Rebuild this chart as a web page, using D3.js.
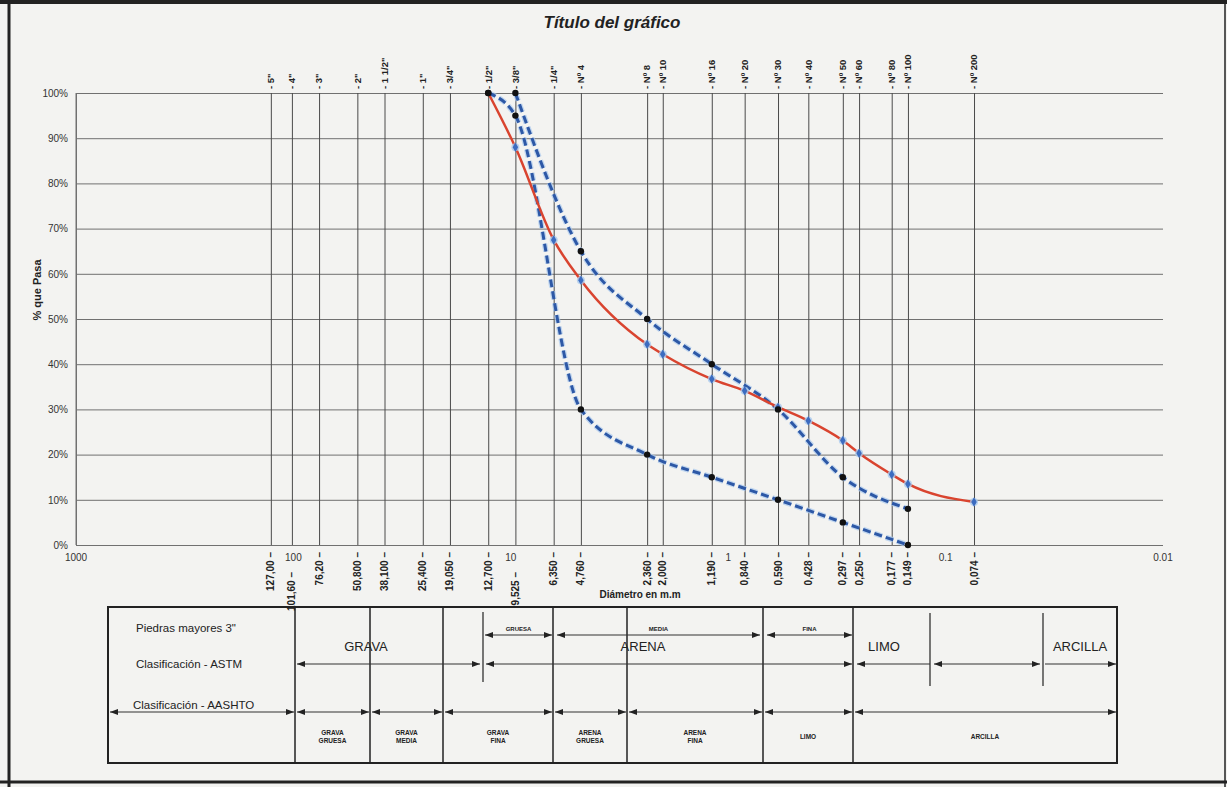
<!DOCTYPE html>
<html>
<head>
<meta charset="utf-8">
<script src="https://cdn.jsdelivr.net/npm/d3@7"></script>
<style>
  body { margin: 0; background: #f3f3f1; }
  svg { display: block; font-family: "Liberation Sans", Arial, sans-serif; }
</style>
</head>
<body>
<svg id="chart" width="1227" height="787"></svg>
<script>
// Tamices (ASTM)
var sieveNames = ['5"', '4"', '3"', '2"', '1 1/2"', '1"', '3/4"', '1/2"', '3/8"', '1/4"', 'Nº 4', 'Nº 8', 'Nº 10', 'Nº 16', 'Nº 20', 'Nº 30', 'Nº 40', 'Nº 50', 'Nº 60', 'Nº 80', 'Nº 100', 'Nº 200'];
var sieveSizes = [127, 101.6, 76.2, 50.8, 38.1, 25.4, 19.05, 12.7, 9.525, 6.35, 4.76, 2.36, 2.0, 1.19, 0.84, 0.59, 0.428, 0.297, 0.25, 0.177, 0.149, 0.074];
var sieveSizeLabels = ['127,00', '101,60', '76,20', '50,800', '38,100', '25,400', '19,050', '12,700', '9,525', '6,350', '4,760', '2,360', '2,000', '1,190', '0,840', '0,590', '0,428', '0,297', '0,250', '0,177', '0,149', '0,074'];

// Eje log (décadas) y eje %
var decadeValues = [1000, 100, 10, 1, 0.1, 0.01];
var decadeLabels = ['1000', '100', '10', '1', '0.1', '0.01'];
var percentTicks = [0, 10, 20, 30, 40, 50, 60, 70, 80, 90, 100];

// % que pasa (null = sin dato en ese tamiz)
var muestra = [null, null, null, null, null, null, null, 100, 88, 67.5, 58.6, 44.4, 42.2, 36.7, 34.1, 30.5, 27.5, 23.1, 20.3, 15.6, 13.5, 9.5];
var limiteSuperior = [null, null, null, null, null, null, null, null, 100, null, 65, 50, null, 40, null, 30, null, 15, null, null, 8, null];
var limiteInferior = [null, null, null, null, null, null, null, 100, 95, null, 30, 20, null, 15, null, 10, null, 5, null, null, 0, null];

// Tabla de clasificación
var rowTitles = ['Piedras mayores 3"', 'Clasificación - ASTM', 'Clasificación - AASHTO'];
var astmLabels = ['GRAVA', 'ARENA', 'LIMO', 'ARCILLA'];
var arenaSubLabels = ['GRUESA', 'MEDIA', 'FINA'];
var aashtoLabels = [['GRAVA', 'GRUESA'], ['GRAVA', 'MEDIA'], ['GRAVA', 'FINA'], ['ARENA', 'GRUESA'], ['ARENA', 'FINA'], ['LIMO'], ['ARCILLA']];

var svg = d3.select('#chart');

// Plot area
var plot = { left: 76, right: 1163, top: 93, bottom: 545 };
var plotW = plot.right - plot.left;
var plotH = plot.bottom - plot.top;

var xScale = d3.scaleLog().domain([1000, 0.01]).range([plot.left, plot.right]);
var yScale = d3.scaleLinear().domain([0, 100]).range([plot.bottom, plot.top]);

var ink = '#222';
var gridColor = '#707070';

// Title
svg.append('text')
  .attr('x', 612).attr('y', 28)
  .attr('text-anchor', 'middle')
  .style('font-size', '17px').style('font-weight', 'bold').style('font-style', 'italic')
  .attr('fill', ink)
  .text('Título del gráfico');

// Horizontal grid + % labels
var yAxis = d3.axisLeft(yScale)
  .tickValues(percentTicks)
  .tickSize(-plotW)
  .tickPadding(8)
  .tickFormat(function(d) { return d + '%'; });

var yG = svg.append('g')
  .attr('transform', 'translate(' + plot.left + ',0)')
  .call(yAxis);
yG.select('.domain').attr('stroke', gridColor);
yG.selectAll('.tick line').attr('stroke', gridColor).attr('stroke-width', 1);
yG.selectAll('.tick text')
  .attr('fill', '#333')
  .style('font-size', '10px')
  .style('font-family', '"Liberation Sans", Arial, sans-serif');

// Vertical grid at sieves
var xGrid = d3.axisBottom(xScale)
  .tickValues(sieveSizes)
  .tickSize(-plotH)
  .tickFormat('');
var xG = svg.append('g')
  .attr('transform', 'translate(0,' + plot.bottom + ')')
  .call(xGrid);
xG.select('.domain').remove();
xG.selectAll('.tick line').attr('stroke', '#4a4a4a').attr('stroke-width', 1);

// Left edge of plot
svg.append('line')
  .attr('x1', xScale(1000)).attr('x2', xScale(1000))
  .attr('y1', plot.top).attr('y2', plot.bottom)
  .attr('stroke', gridColor);

// Top labels (sieve names)
svg.append('g').selectAll('text')
  .data(sieveNames)
  .enter().append('text')
  .attr('transform', function(d, i) { return 'translate(' + xScale(sieveSizes[i]) + ',89) rotate(-90)'; })
  .attr('dy', '0.35em')
  .attr('text-anchor', 'start')
  .style('font-size', '9.5px').style('font-weight', 'bold')
  .attr('fill', ink)
  .text(function(d) { return '- ' + d; });

// Decade labels
svg.append('g').selectAll('text')
  .data(decadeValues)
  .enter().append('text')
  .attr('x', function(d) { return xScale(d); })
  .attr('y', 561)
  .attr('text-anchor', 'middle')
  .style('font-size', '10px')
  .attr('fill', '#333')
  .text(function(d, i) { return decadeLabels[i]; });

// Bottom labels (sieve size in mm), pushed down when they collide with a decade label
svg.append('g').selectAll('text')
  .data(sieveSizeLabels)
  .enter().append('text')
  .attr('transform', function(d, i) {
    var px = xScale(sieveSizes[i]);
    var clash = decadeValues.some(function(v) { return Math.abs(xScale(v) - px) < 10; });
    return 'translate(' + px + ',' + (clash ? 572 : 552) + ') rotate(-90)';
  })
  .attr('dy', '0.35em')
  .attr('text-anchor', 'end')
  .style('font-size', '10px').style('font-weight', 'bold')
  .attr('fill', ink)
  .text(function(d) { return d + ' –'; });

// Axis titles
svg.append('text')
  .attr('transform', 'translate(41,290) rotate(-90)')
  .attr('text-anchor', 'middle')
  .style('font-size', '11px').style('font-weight', 'bold')
  .attr('fill', ink)
  .text('% que Pasa');

svg.append('text')
  .attr('x', 640).attr('y', 598)
  .attr('text-anchor', 'middle')
  .style('font-size', '10px').style('font-weight', 'bold')
  .attr('fill', ink)
  .text('Diámetro en m.m');

// Curves
function toPoints(values) {
  return sieveSizes.map(function(s, i) { return { size: s, value: values[i] }; })
    .filter(function(d) { return d.value != null; });
}

var line = d3.line()
  .x(function(d) { return xScale(d.size); })
  .y(function(d) { return yScale(d.value); })
  .curve(d3.curveMonotoneX);

var curves = svg.append('g');

[limiteSuperior, limiteInferior].forEach(function(values) {
  var pts = toPoints(values);
  curves.append('path')
    .attr('d', line(pts))
    .attr('fill', 'none')
    .attr('stroke', '#a9c9ee')
    .attr('stroke-width', 5.5)
    .attr('stroke-dasharray', '8,4')
    .attr('opacity', 0.7);
  curves.append('path')
    .attr('d', line(pts))
    .attr('fill', 'none')
    .attr('stroke', '#2d58a6')
    .attr('stroke-width', 3)
    .attr('stroke-dasharray', '8,4');
});

var muestraPts = toPoints(muestra);
curves.append('path')
  .attr('d', line(muestraPts))
  .attr('fill', 'none')
  .attr('stroke', '#d9442f')
  .attr('stroke-width', 2.5);

// Markers: sample
curves.selectAll('.halo')
  .data(muestraPts.slice(1))
  .enter().append('circle')
  .attr('class', 'halo')
  .attr('cx', function(d) { return xScale(d.size); })
  .attr('cy', function(d) { return yScale(d.value); })
  .attr('r', 4)
  .attr('fill', '#a9c9ee')
  .attr('opacity', 0.8);

curves.selectAll('.mk')
  .data(muestraPts.slice(1))
  .enter().append('path')
  .attr('class', 'mk')
  .attr('transform', function(d) { return 'translate(' + xScale(d.size) + ',' + yScale(d.value) + ')'; })
  .attr('d', d3.symbol().type(d3.symbolDiamond).size(26))
  .attr('fill', '#3c6cc0');

// Markers: limits (black dots)
var limitPts = toPoints(limiteSuperior).concat(toPoints(limiteInferior)).concat([muestraPts[0]]);
curves.selectAll('.dot')
  .data(limitPts)
  .enter().append('circle')
  .attr('class', 'dot')
  .attr('cx', function(d) { return xScale(d.size); })
  .attr('cy', function(d) { return yScale(d.value); })
  .attr('r', 3.2)
  .attr('fill', '#111');

// ---------- Classification table ----------
var defs = svg.append('defs');
defs.append('marker')
  .attr('id', 'ah')
  .attr('viewBox', '0 0 8 6')
  .attr('refX', 8).attr('refY', 3)
  .attr('markerWidth', 8).attr('markerHeight', 6)
  .attr('markerUnits', 'userSpaceOnUse')
  .attr('orient', 'auto-start-reverse')
  .append('path').attr('d', 'M0,0L8,3L0,6Z').attr('fill', ink);

var table = { left: 108, right: 1117, top: 607, bottom: 763 };
var tableCols = [295, 370, 443, 553, 627, 763, 853];
var tg = svg.append('g');

tg.append('rect')
  .attr('x', table.left).attr('y', table.top)
  .attr('width', table.right - table.left).attr('height', table.bottom - table.top)
  .attr('fill', 'none').attr('stroke', ink).attr('stroke-width', 2);

tg.selectAll('.col')
  .data(tableCols)
  .enter().append('line')
  .attr('x1', function(d) { return d; }).attr('x2', function(d) { return d; })
  .attr('y1', table.top).attr('y2', table.bottom)
  .attr('stroke', ink).attr('stroke-width', 1.5);

[[483, 612, 682], [930, 613, 686], [1043, 613, 686]].forEach(function(s) {
  tg.append('line')
    .attr('x1', s[0]).attr('x2', s[0]).attr('y1', s[1]).attr('y2', s[2])
    .attr('stroke', ink).attr('stroke-width', 1.2);
});

function arrow(x1, x2, yy, heads) {
  var l = tg.append('line')
    .attr('x1', x1).attr('x2', x2).attr('y1', yy).attr('y2', yy)
    .attr('stroke', '#333').attr('stroke-width', 1.2);
  if (heads !== 'end') l.attr('marker-start', 'url(#ah)');
  if (heads !== 'start') l.attr('marker-end', 'url(#ah)');
}

// Row titles
[[136, 628], [136, 664], [133, 705]].forEach(function(p, i) {
  tg.append('text')
    .attr('x', p[0]).attr('y', p[1]).attr('dy', '0.35em')
    .style('font-size', '11.5px')
    .attr('fill', ink)
    .text(rowTitles[i]);
});

// Arena sub-rows (gruesa / media / fina)
[[485, 552], [557, 760], [767, 852]].forEach(function(s, i) {
  arrow(s[0], s[1], 635, 'both');
  tg.append('text')
    .attr('x', (s[0] + s[1]) / 2).attr('y', 631)
    .attr('text-anchor', 'middle')
    .style('font-size', '6px').style('font-weight', 'bold')
    .attr('fill', ink)
    .text(arenaSubLabels[i]);
});

// ASTM
arrow(297, 480, 664, 'both');
arrow(486, 852, 664, 'both');
arrow(857, 930, 664, 'start');
arrow(934, 1040, 664, 'both');
arrow(1045, 1116, 664, 'end');
[366, 643, 884, 1080].forEach(function(x, i) {
  tg.append('text')
    .attr('x', x).attr('y', 651)
    .attr('text-anchor', 'middle')
    .style('font-size', '13px')
    .attr('fill', ink)
    .text(astmLabels[i]);
});

// AASHTO
arrow(110, 294, 712, 'both');
var aashtoEdges = [295, 370, 443, 553, 627, 763, 853, 1117];
d3.pairs(aashtoEdges).forEach(function(p, i) {
  arrow(p[0] + 2, p[1] - 1, 712, 'both');
  var lines = aashtoLabels[i];
  lines.forEach(function(t, j) {
    tg.append('text')
      .attr('x', (p[0] + p[1]) / 2)
      .attr('y', 737 + (j - (lines.length - 1) / 2) * 8)
      .attr('dy', '0.35em')
      .attr('text-anchor', 'middle')
      .style('font-size', '6.5px').style('font-weight', 'bold')
      .attr('fill', ink)
      .text(t);
  });
});

// Sheet frame
var frame = svg.append('g').attr('stroke', ink);
frame.append('line').attr('x1', 0).attr('x2', 1227).attr('y1', 2).attr('y2', 2).attr('stroke-width', 4);
frame.append('line').attr('x1', 9).attr('x2', 9).attr('y1', 0).attr('y2', 787).attr('stroke-width', 3);
frame.append('line').attr('x1', 1225).attr('x2', 1225).attr('y1', 0).attr('y2', 787).attr('stroke-width', 1.5);
frame.append('line').attr('x1', 0).attr('x2', 1227).attr('y1', 782).attr('y2', 782).attr('stroke-width', 3);
</script>
</body>
</html>
